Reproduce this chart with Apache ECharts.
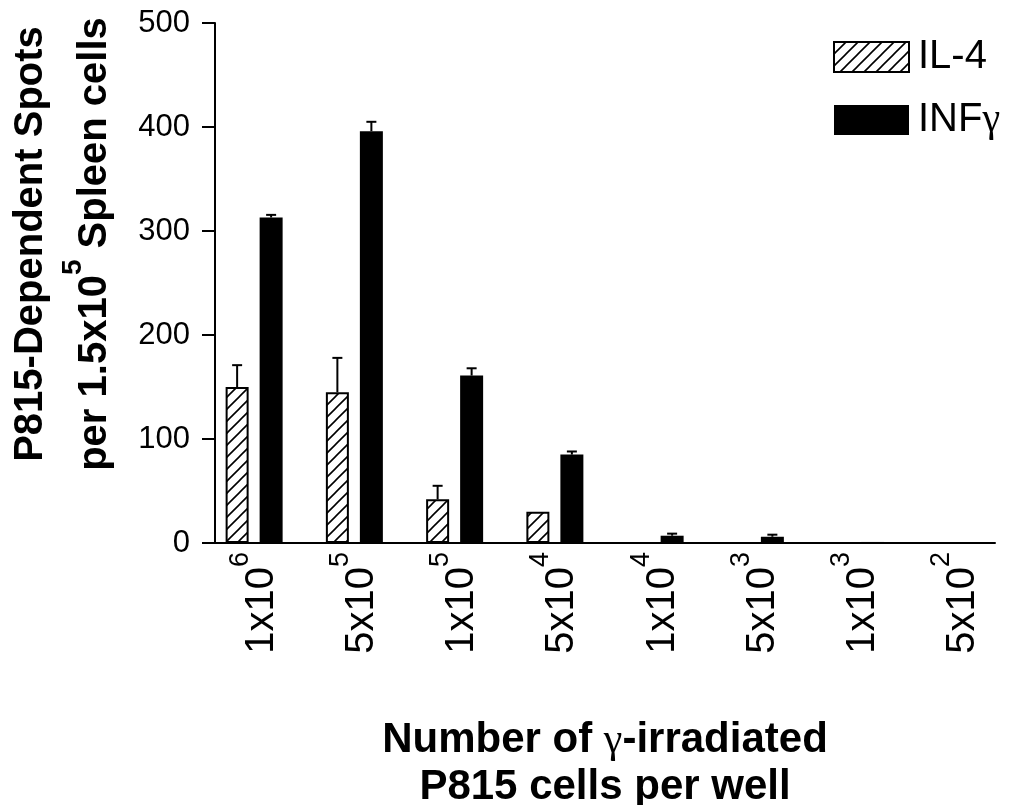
<!DOCTYPE html>
<html>
<head>
<meta charset="utf-8">
<script src="https://cdn.jsdelivr.net/npm/echarts@6/dist/echarts.min.js"></script>
<style>
html,body{margin:0;padding:0;background:#fff;}
#chart{width:1010px;height:805px;}
</style>
</head>
<body>
<div id="chart"></div>
<script>
// ---- data ----
const catMantissa = ['1x10', '5x10', '1x10', '5x10', '1x10', '5x10', '1x10', '5x10'];
const catExponent = ['6', '5', '5', '4', '4', '3', '3', '2'];
const il4Values = [150, 145, 42, 30, 0, 0, 0, 0];
const il4Errors = [21, 33, 13, 0, 0, 0, 0, 0];
const infValues = [313, 396, 161, 85, 7, 6, 1, 0];
const infErrors = [2.5, 9, 7, 3, 2, 2, 0, 0];
const yTickValues = [0, 100, 200, 300, 400, 500];
const seriesNames = ['IL-4', 'INF\u03b3'];

const categories = catMantissa.map((m, i) => m + '^' + catExponent[i]);

// ---- styles ----
const FONT = 'Liberation Sans, Arial, Helvetica, sans-serif';
const SERIF = 'Liberation Serif, Times New Roman, serif';
const BAR_W = 23;
const BAR_GAP_PX = 11;
const HALF_PAIR = (BAR_W + BAR_GAP_PX) / 2;

function hatchPattern() {
  const s = 12;
  const c = document.createElement('canvas');
  c.width = s; c.height = s;
  const ctx = c.getContext('2d');
  ctx.fillStyle = '#fff';
  ctx.fillRect(0, 0, s, s);
  ctx.strokeStyle = '#000';
  ctx.lineWidth = 1.6;
  ctx.beginPath();
  ctx.moveTo(-1, s + 1); ctx.lineTo(s + 1, -1);
  ctx.moveTo(-2, 2); ctx.lineTo(2, -2);
  ctx.moveTo(s - 2, s + 2); ctx.lineTo(s + 2, s - 2);
  ctx.stroke();
  return c;
}

function errorRenderer(sign) {
  return function (params, api) {
    const v = api.value(1), e = api.value(2);
    if (!e) return null;
    const base = api.coord([api.value(0), v]);
    const top = api.coord([api.value(0), v + e]);
    const x = base[0] + sign * HALF_PAIR;
    const capHalf = 5;
    return {
      type: 'group',
      children: [
        { type: 'line', shape: { x1: x, y1: base[1], x2: x, y2: top[1] }, style: { stroke: '#000', lineWidth: 2 } },
        { type: 'line', shape: { x1: x - capHalf, y1: top[1], x2: x + capHalf, y2: top[1] }, style: { stroke: '#000', lineWidth: 2 } }
      ]
    };
  };
}

const chart = echarts.init(document.getElementById('chart'), null, { renderer: 'canvas' });

const option = {
  animation: false,
  backgroundColor: '#fff',
  legend: {
    orient: 'vertical',
    left: 828,
    top: 32,
    itemWidth: 75,
    itemHeight: 30,
    itemGap: 23,
    icon: 'rect',
    data: seriesNames,
    formatter: function (name) {
      if (name.indexOf('\u03b3') >= 0) return '{n|' + name.replace('\u03b3', '') + '}{g|\u03b3}';
      return '{n|' + name + '}';
    },
    textStyle: {
      rich: {
        n: { fontFamily: FONT, fontSize: 40, color: '#000', lineHeight: 40, padding: [0, 0, 0, 4] },
        g: { fontFamily: SERIF, fontSize: 40, color: '#000', lineHeight: 40 }
      }
    }
  },
  grid: [
    { left: 204, width: 802, top: 23, bottom: 262, containLabel: false, outerBoundsMode: 'none' },
    { left: 215, width: 780, top: 23, bottom: 262, containLabel: false, outerBoundsMode: 'none' }
  ],
  xAxis: [
    {
      type: 'category',
      gridIndex: 0,
      data: categories,
      axisLine: { show: false },
      axisTick: { show: false },
      axisLabel: {
        interval: 0,
        rotate: 90,
        margin: 9,
        formatter: function (val) {
          const p = val.split('^');
          return '{m|' + p[0] + '}{s|' + p[1] + '}';
        },
        rich: {
          m: { fontFamily: FONT, fontSize: 40, color: '#000', lineHeight: 30, verticalAlign: 'bottom' },
          s: { fontFamily: FONT, fontSize: 27, color: '#000', padding: [0, 0, 28, 0], verticalAlign: 'top' }
        }
      }
    },
    {
      type: 'value',
      gridIndex: 1,
      min: 0,
      max: 1,
      splitLine: { show: false },
      axisTick: { show: false },
      axisLabel: { show: false },
      axisLine: { show: true, lineStyle: { color: '#000', width: 2 } },
      name: '{b|Number of }{g|\u03b3}{b|-irradiated}\n{b|P815 cells per well}',
      nameLocation: 'middle',
      nameGap: 174,
      nameMoveOverlap: false,
      nameTextStyle: {
        rich: {
          b: { fontFamily: FONT, fontSize: 42, fontWeight: 'bold', color: '#000', lineHeight: 47 },
          g: { fontFamily: SERIF, fontSize: 42, color: '#000', lineHeight: 47 }
        }
      }
    }
  ],
  yAxis: [
    {
      type: 'value',
      gridIndex: 0,
      min: 0,
      max: 500,
      show: false
    },
    {
      type: 'value',
      gridIndex: 1,
      min: 0,
      max: 500,
      interval: 100,
      splitLine: { show: false },
      axisLine: { show: true, lineStyle: { color: '#000', width: 2 } },
      axisTick: { show: true, length: 13, lineStyle: { color: '#000', width: 2 } },
      axisLabel: {
        margin: 25,
        fontFamily: FONT,
        fontSize: 31,
        color: '#000',
        formatter: function (v) { return yTickValues.indexOf(v) >= 0 ? String(v) : ''; }
      },
      name: '{l1|P815-Dependent Spots}\n{l2|per 1.5x10}{s|5}{l2| Spleen cells}',
      nameLocation: 'middle',
      nameGap: 100,
      nameMoveOverlap: false,
      nameTextStyle: {
        padding: [0, 0, 0, 78],
        rich: {
          l1: { fontFamily: FONT, fontSize: 40, fontWeight: 'bold', color: '#000', lineHeight: 56 },
          l2: { fontFamily: FONT, fontSize: 40, fontWeight: 'bold', color: '#000', lineHeight: 44, verticalAlign: 'bottom' },
          s: { fontFamily: FONT, fontSize: 28, fontWeight: 'bold', color: '#000', padding: [0, 0, 28, 0], verticalAlign: 'top' }
        }
      }
    }
  ],
  series: [
    {
      name: seriesNames[0],
      type: 'bar',
      xAxisIndex: 0,
      yAxisIndex: 0,
      barWidth: BAR_W,
      barGap: (BAR_GAP_PX / BAR_W * 100) + '%',
      data: il4Values,
      itemStyle: {
        color: { image: hatchPattern(), repeat: 'repeat' },
        borderColor: '#000',
        borderWidth: 2
      },
      z: 2
    },
    {
      name: seriesNames[1],
      type: 'bar',
      xAxisIndex: 0,
      yAxisIndex: 0,
      barWidth: BAR_W,
      data: infValues,
      itemStyle: { color: '#000' },
      z: 2
    },
    {
      type: 'custom',
      xAxisIndex: 0,
      yAxisIndex: 0,
      renderItem: errorRenderer(-1),
      data: il4Values.map((v, i) => [i, v, il4Errors[i]]),
      encode: { x: 0, y: 1 },
      z: 3,
      silent: true
    },
    {
      type: 'custom',
      xAxisIndex: 0,
      yAxisIndex: 0,
      renderItem: errorRenderer(1),
      data: infValues.map((v, i) => [i, v, infErrors[i]]),
      encode: { x: 0, y: 1 },
      z: 3,
      silent: true
    }
  ]
};

chart.setOption(option);
</script>
</body>
</html>
